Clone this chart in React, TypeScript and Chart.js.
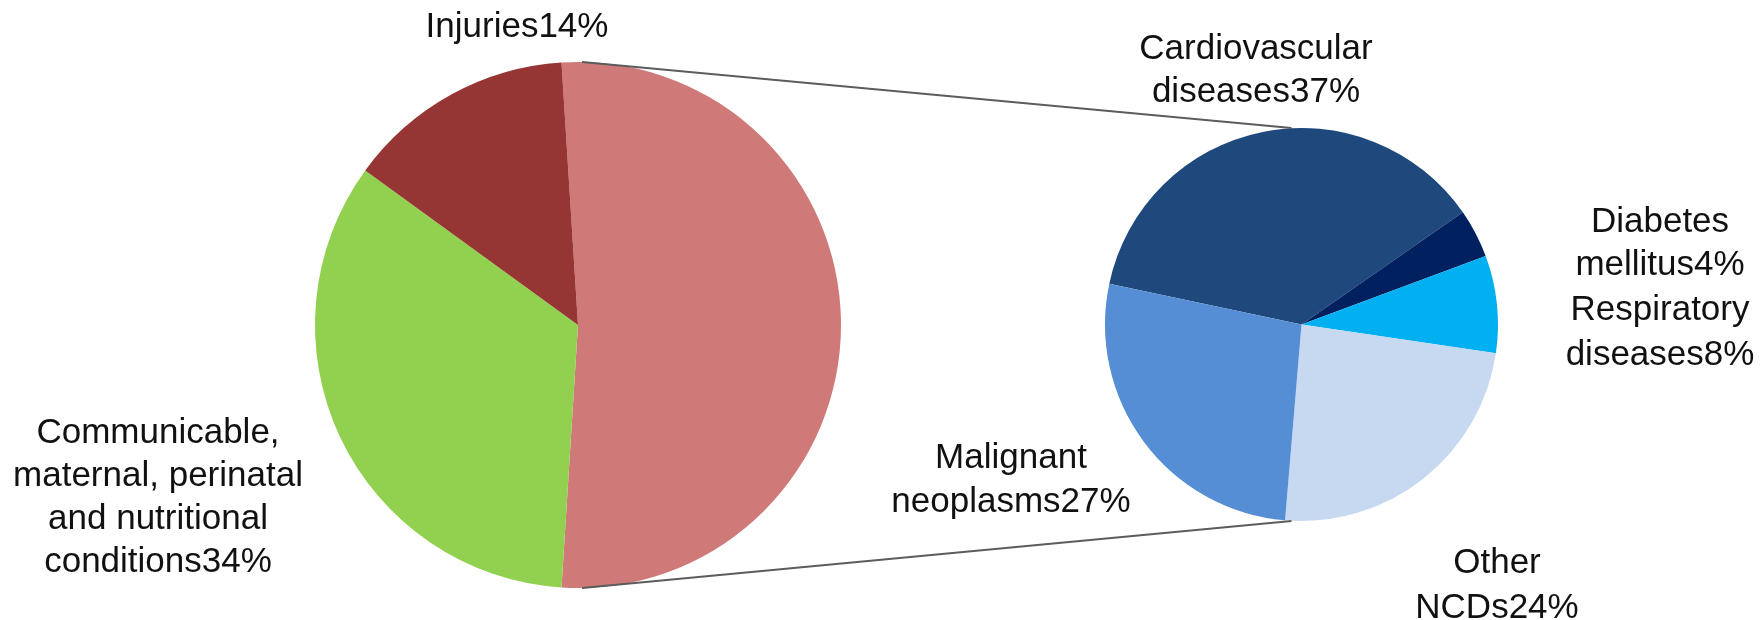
import React, { useEffect, useRef } from "react";
import { Chart, registerables } from "chart.js";
Chart.register(...registerables);

// ---- data ----
const primaryCategories = [
  "Noncommunicable diseases",
  "Communicable, maternal, perinatal and nutritional conditions",
  "Injuries",
];
const primaryValues = [52, 34, 14];
const primaryColors = ["#CF7A78", "#92D050", "#963634"];

const secondaryCategories = [
  "Cardiovascular diseases",
  "Diabetes mellitus",
  "Respiratory diseases",
  "Other NCDs",
  "Malignant neoplasms",
];
const secondaryValues = [37, 4, 8, 24, 27];
const secondaryColors = ["#1F497D", "#002060", "#00B0F0", "#C6D9F1", "#558ED5"];

// wrapped label lines (value% is appended to the last line)
const primaryLabelLines: (string[] | null)[] = [
  null,
  ["Communicable,", "maternal, perinatal", "and nutritional", "conditions"],
  ["Injuries"],
];
const secondaryLabelLines: string[][] = [
  ["Cardiovascular", "diseases"],
  ["Diabetes", "mellitus"],
  ["Respiratory", "diseases"],
  ["Other", "NCDs"],
  ["Malignant", "neoplasms"],
];

// ---- layout (label anchors: centre x, first baseline, line step) ----
const primaryLabelPos: (number[] | null)[] = [null, [158, 443, 43], [517, 37, 43]];
const secondaryLabelPos: number[][] = [
  [1256, 59, 43],
  [1660, 232, 43],
  [1660, 320, 45],
  [1497, 573, 45],
  [1011, 468, 44],
];

const W = 1763;
const H = 620;
const FONT = '35px "Liberation Sans", Arial, sans-serif';

function labelPlugin(id: string, lines: (string[] | null)[], pos: (number[] | null)[], values: number[]) {
  return {
    id,
    afterDraw(chart: any) {
      const ctx = chart.ctx;
      ctx.save();
      ctx.font = FONT;
      ctx.fillStyle = "#111111";
      ctx.textAlign = "center";
      ctx.textBaseline = "alphabetic";
      lines.forEach((ls, i) => {
        const p = pos[i];
        if (!ls || !p) return;
        ls.forEach((t, j) => {
          const txt = j === ls.length - 1 ? `${t}${values[i]}%` : t;
          ctx.fillText(txt, p[0], p[1] + j * p[2]);
        });
      });
      ctx.restore();
    },
  };
}

export default function App() {
  const leftRef = useRef<HTMLCanvasElement>(null);
  const rightRef = useRef<HTMLCanvasElement>(null);

  useEffect(() => {
    document.body.style.margin = "0";
    const left = new Chart(leftRef.current!, {
      type: "pie",
      data: {
        labels: primaryCategories,
        datasets: [
          {
            data: primaryValues,
            backgroundColor: primaryColors,
            borderWidth: 0,
          },
        ],
      },
      options: {
        responsive: false,
        animation: false,
        devicePixelRatio: 1,
        rotation: -(primaryValues[0] / 100) * 180 + 90,
        layout: { padding: { left: 315, right: W - 841, top: 62, bottom: H - 588 } },
        plugins: { legend: { display: false }, tooltip: { enabled: false } },
      },
      plugins: [labelPlugin("leftLabels", primaryLabelLines, primaryLabelPos, primaryValues)],
    });

    const connector = {
      id: "connector",
      afterDraw(chart: any) {
        const a: any = left.getDatasetMeta(0).data[0];
        const b: any = chart.getDatasetMeta(0).data[0];
        if (!a || !b) return;
        const ctx = chart.ctx;
        ctx.save();
        ctx.strokeStyle = "#5c5c5c";
        ctx.lineWidth = 2;
        ctx.beginPath();
        ctx.moveTo(a.x + 4, a.y - a.outerRadius);
        ctx.lineTo(b.x - 10, b.y - b.outerRadius);
        ctx.moveTo(a.x + 4, a.y + a.outerRadius);
        ctx.lineTo(b.x - 10, b.y + b.outerRadius);
        ctx.stroke();
        ctx.restore();
      },
    };

    const right = new Chart(rightRef.current!, {
      type: "pie",
      data: {
        labels: secondaryCategories,
        datasets: [
          {
            data: secondaryValues,
            backgroundColor: secondaryColors,
            borderWidth: 0,
          },
        ],
      },
      options: {
        responsive: false,
        animation: false,
        devicePixelRatio: 1,
        rotation: -78,
        layout: { padding: { left: 1105, right: W - 1498, top: 128, bottom: H - 521 } },
        plugins: { legend: { display: false }, tooltip: { enabled: false } },
      },
      plugins: [connector, labelPlugin("rightLabels", secondaryLabelLines, secondaryLabelPos, secondaryValues)],
    });

    return () => {
      right.destroy();
      left.destroy();
    };
  }, []);

  return (
    <div style={{ position: "fixed", left: 0, top: 0, width: W, height: H, background: "#fff" }}>
      <canvas ref={leftRef} width={W} height={H} style={{ position: "absolute", left: 0, top: 0 }} />
      <canvas ref={rightRef} width={W} height={H} style={{ position: "absolute", left: 0, top: 0 }} />
    </div>
  );
}
